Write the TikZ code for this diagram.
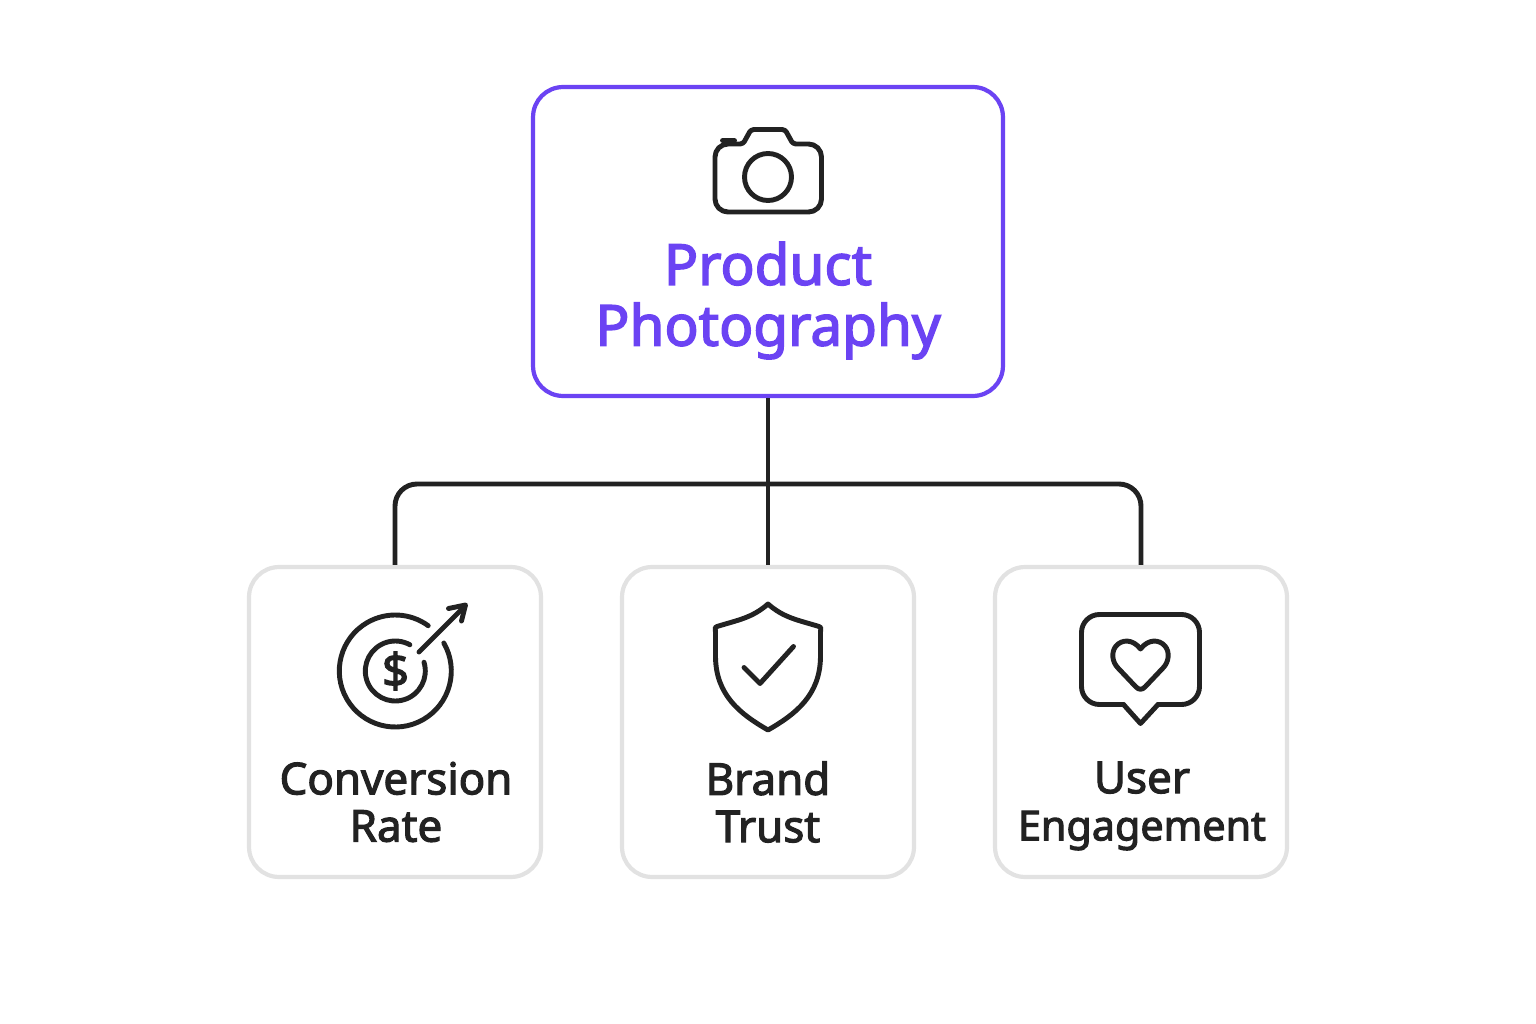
\documentclass[tikz,border=0pt]{standalone}
\usepackage{fontspec}
\setmainfont{Noto Sans}[FakeBold=2.6]
\definecolor{violet}{HTML}{6B43F3}
\definecolor{ink}{HTML}{222222}
\definecolor{edge}{HTML}{E2E2E2}
\tikzset{
 topbox/.style={draw=violet,line width=2.4pt,rounded corners=0.6cm,minimum width=9.4cm,minimum height=6.18cm},
 subbox/.style={draw=edge,line width=2.4pt,rounded corners=0.6cm,minimum width=5.84cm,minimum height=6.2cm},
 link/.style={draw=ink,line width=2.8pt},
 icon/.style={draw=ink,line width=2.8pt,line cap=round,line join=round},
 toplabel/.style={text=violet,align=center,font=\fontsize{32.2}{34.6}\selectfont},
 sublabel/.style={text=ink,align=center,font=\fontsize{25}{26.9}\selectfont},
}
\begin{document}
\begin{tikzpicture}[x=0.02cm,y=-0.02cm]
\useasboundingbox (0,0) rectangle (1536,1024);
\node[topbox] (photo) at (768,241.5) {};
\node[subbox] (conversion) at (395,722) {};
\node[subbox] (brand) at (768,722) {};
\node[subbox] (engagement) at (1141,722) {};
\coordinate (bus) at (768,484);
\draw[link] (photo.south) -- (brand.north);
\draw[link,rounded corners=0.44cm] (conversion.north) |- (bus) -| (engagement.north);
\node[toplabel] (phototext) at (768,300.5) {Product\\Photography};
\node[sublabel] (conversiontext) at (396,802) {Conversion\\Rate};
\node[sublabel] (brandtext) at (768,802) {Brand\\Trust};
\node[sublabel] (engagementtext) at (1142,806) {User\\{\fontsize{23.5}{26.9}\selectfont Engagement}};
\draw[icon] (743,144) [rounded corners=0.06cm] -- (751,129.5) -- (785,129.5) -- (793,144) [rounded corners=0.26cm] -- (821.5,144) -- (821.5,212) -- (715,212) -- (715,144) [rounded corners=0.06cm] -- cycle;
\draw[icon,line width=3.4pt] (723,140.5) -- (734,140.5);
\draw[icon] (768,177) circle (23.5);
\draw[icon] (395.3,671) ++(-30:56) arc[start angle=-30,end angle=306,radius=56];
\draw[icon] (395.3,671) ++(-17:30) arc[start angle=-17,end angle=299,radius=30];
\draw[icon] (419,652) -- (465,606);
\draw[icon] (448.5,608.5) -- (465.5,605) -- (461.5,621);
\node[text=ink,font=\fontsize{27}{27}\selectfont] (dollar) at (395.5,671) {\$};
\draw[icon] (768,604) .. controls (752,618) and (738,620) .. (717,626.5) .. controls (715,627) .. (715.5,632) -- (715.5,657) .. controls (716,695) and (740,714) .. (768,730) .. controls (796,714) and (820,695) .. (820.5,657) -- (820.5,632) .. controls (821,627) .. (819,626.5) .. controls (798,620) and (784,618) .. (768,604) -- cycle;
\draw[icon] (744,667.5) -- (760,683.5) -- (793.5,646.5);
\draw[icon,rounded corners=0.36cm] (1123.5,704.5) -- (1081.5,704.5) -- (1081.5,614.5) -- (1199.5,614.5) -- (1199.5,704.5) -- (1158,704.5);
\draw[icon] (1123.5,704.5) -- (1140.5,723.5) -- (1158,704.5);
\draw[icon] (1140.5,649) .. controls (1133,639) and (1122,639) .. (1116,646) .. controls (1111,652) and (1112,662) .. (1118,668) -- (1136,687) .. controls (1139,690) and (1142,690) .. (1145,687) -- (1163,668) .. controls (1169,662) and (1170,652) .. (1165,646) .. controls (1159,639) and (1148,639) .. (1140.5,649) -- cycle;
\end{tikzpicture}
\end{document}
